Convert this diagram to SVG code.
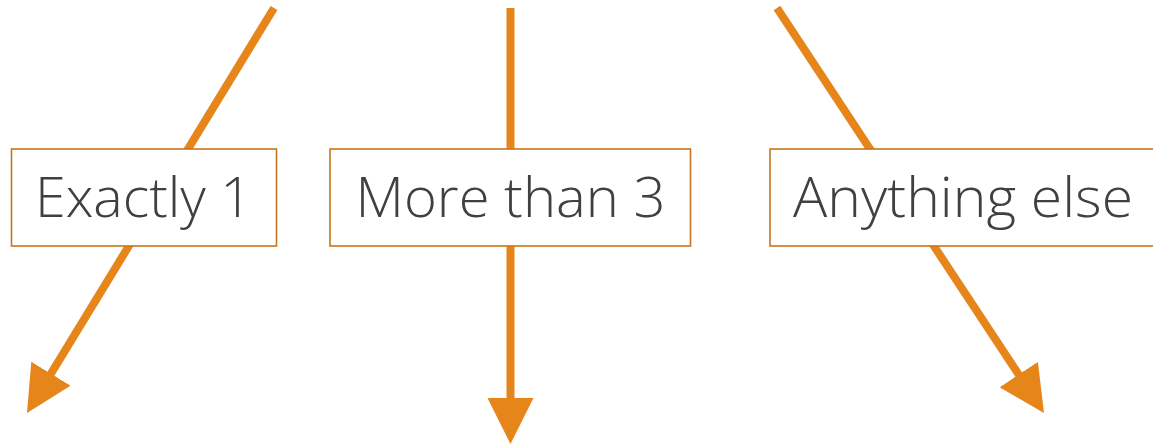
<svg xmlns="http://www.w3.org/2000/svg" width="1153" height="445" viewBox="0 0 1153 445">
  <style>
    .flow { fill: none; stroke: #E5851A; stroke-width: 8; marker-end: url(#head); }
    .box { fill: #FFFFFF; stroke: #C5761F; stroke-width: 1.6; }
    .label { font-family: "Open Sans", "Liberation Sans", sans-serif; font-weight: 300; font-size: 56px; fill: #404040; }
  </style>
  <defs>
    <marker id="head" viewBox="0 0 46 46" refX="26" refY="23" markerWidth="46" markerHeight="46" markerUnits="userSpaceOnUse" orient="auto">
      <path d="M0,0 L46,23 L0,46 Z" fill="#E5851A"/>
    </marker>
  </defs>

  <!-- arrows, drawn under the boxes -->
  <g id="connectors">
    <path class="flow" d="M274,8 L37.4,395.9"/>
    <path class="flow" d="M510.5,8 L510.5,424"/>
    <path class="flow" d="M777,8 L1033,396.3"/>
  </g>

  <g id="node-exactly-1">
    <rect class="box" x="11.5" y="149" width="265" height="97"/>
    <text class="label" x="35" y="216.5" textLength="217" lengthAdjust="spacingAndGlyphs">Exactly 1</text>
  </g>

  <g id="node-more-than-3">
    <rect class="box" x="330" y="149" width="360.5" height="97"/>
    <text class="label" x="355.5" y="216.5" textLength="310" lengthAdjust="spacingAndGlyphs">More than 3</text>
  </g>

  <g id="node-anything-else">
    <rect class="box" x="770" y="149" width="400" height="97"/>
    <text class="label" x="793" y="216.5" textLength="340" lengthAdjust="spacingAndGlyphs">Anything else</text>
  </g>
</svg>
